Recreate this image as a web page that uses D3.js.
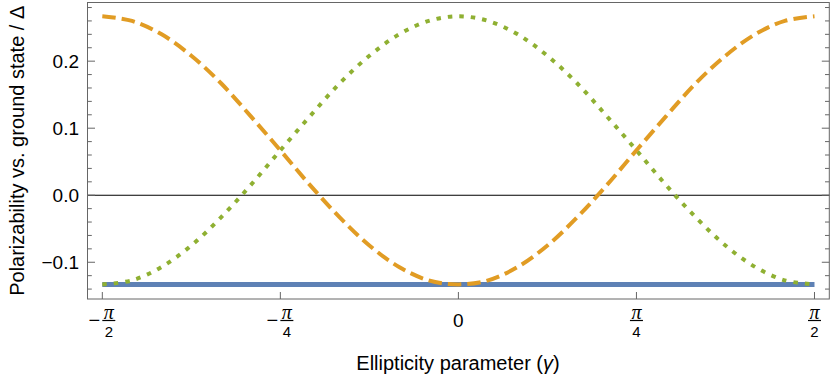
<!DOCTYPE html>
<html>
<head>
<meta charset="utf-8">
<script src="https://d3js.org/d3.v7.min.js"></script>
<style>
  * { margin: 0; padding: 0; }
  body { background: #fff; }
  svg text { font-family: "Liberation Sans", Arial, sans-serif; fill: #000; }
</style>
</head>
<body>
<div id="chart"></div>
<script>
// gamma, in units of pi
var gamma = [-0.5, -0.4583, -0.4167, -0.375, -0.3333, -0.2917, -0.25, -0.2083, -0.1667, -0.125, -0.0833, -0.0417,
             0, 0.0417, 0.0833, 0.125, 0.1667, 0.2083, 0.25, 0.2917, 0.3333, 0.375, 0.4167, 0.4583, 0.5];
// orange dashed
var orangeVals = [0.267, 0.260, 0.240, 0.208, 0.167, 0.118, 0.067, 0.015, -0.033, -0.075, -0.107, -0.127,
                  -0.133, -0.127, -0.107, -0.075, -0.033, 0.015, 0.067, 0.118, 0.167, 0.208, 0.240, 0.260, 0.267];
// green dotted
var greenVals = [-0.133, -0.127, -0.107, -0.075, -0.033, 0.015, 0.067, 0.118, 0.167, 0.208, 0.240, 0.260,
                 0.267, 0.260, 0.240, 0.208, 0.167, 0.118, 0.067, 0.015, -0.033, -0.075, -0.107, -0.127, -0.133];
// blue flat
var blueVals = [-0.133, -0.133, -0.133, -0.133, -0.133, -0.133, -0.133, -0.133, -0.133, -0.133, -0.133, -0.133,
                -0.133, -0.133, -0.133, -0.133, -0.133, -0.133, -0.133, -0.133, -0.133, -0.133, -0.133, -0.133, -0.133];

var xTicks = [-0.5, -0.25, 0, 0.25, 0.5];
var xTickNum = ["π", "π", "0", "π", "π"];
var xTickDen = ["2", "4", "", "4", "2"];
var yTicks = [-0.1, 0, 0.1, 0.2];
var yTickLabels = ["\u22120.1", "0.0", "0.1", "0.2"];

var width = 830, height = 381;
var pLeft = 87.5, pRight = 829.3, pTop = 2.5, pBottom = 299;

var svg = d3.select("#chart").append("svg")
  .attr("width", width).attr("height", height);

var x = d3.scaleLinear().domain([-0.5208, 0.5208]).range([pLeft, pRight]);
var y = d3.scaleLinear().domain([-0.1548, 0.2875]).range([pBottom, pTop]);

// zero line
svg.append("line")
  .attr("x1", pLeft).attr("x2", pRight)
  .attr("y1", y(0)).attr("y2", y(0))
  .attr("stroke", "#000").attr("stroke-width", 1.1);

var line = function(vals) {
  return d3.line()
    .x(function(d, i) { return x(gamma[i]); })
    .y(function(d) { return y(d); })
    .curve(d3.curveCatmullRom)(vals);
};

svg.append("path").attr("d", line(blueVals))
  .attr("fill", "none").attr("stroke", "#5E81B5").attr("stroke-width", 5);

svg.append("path").attr("d", line(greenVals))
  .attr("fill", "none").attr("stroke", "#8FB032").attr("stroke-width", 4)
  .attr("stroke-dasharray", "4.5,7");

svg.append("path").attr("d", line(orangeVals))
  .attr("fill", "none").attr("stroke", "#E19C24").attr("stroke-width", 4)
  .attr("stroke-dasharray", "13.5,6");

// frame
svg.append("rect")
  .attr("x", pLeft).attr("y", pTop)
  .attr("width", pRight - pLeft).attr("height", pBottom - pTop)
  .attr("fill", "none").attr("stroke", "#666").attr("stroke-width", 1);

// y ticks, left & right
var yMinor = d3.range(-14, 29, 2).map(function(d) { return d / 100; });
yMinor.forEach(function(v) {
  var major = Math.abs(v * 10 - Math.round(v * 10)) < 1e-6;
  var len = major ? 7.5 : 4.3;
  svg.append("line").attr("x1", pLeft).attr("x2", pLeft + len)
    .attr("y1", y(v)).attr("y2", y(v)).attr("stroke", "#666");
  svg.append("line").attr("x1", pRight).attr("x2", pRight - len)
    .attr("y1", y(v)).attr("y2", y(v)).attr("stroke", "#666");
});

svg.selectAll(".ylab").data(yTicks).enter().append("text")
  .attr("class", "ylab")
  .attr("x", 79).attr("y", function(d) { return y(d); })
  .attr("dy", "0.36em")
  .attr("text-anchor", "end")
  .style("font-size", "19px")
  .text(function(d, i) { return yTickLabels[i]; });

// x ticks
xTicks.forEach(function(v, i) {
  var cx = x(v);
  svg.append("line").attr("x1", cx).attr("x2", cx)
    .attr("y1", pBottom).attr("y2", pBottom - 7).attr("stroke", "#666");
  if (xTickDen[i] === "") {
    svg.append("text").attr("x", cx).attr("y", 327)
      .attr("text-anchor", "middle").style("font-size", "19px")
      .text(xTickNum[i]);
    return;
  }
  var fx = v < 0 ? cx + 6.5 : cx;
  if (v < 0) {
    svg.append("text").attr("x", cx - 8).attr("y", 327)
      .attr("text-anchor", "middle").style("font-size", "20px")
      .text("\u2212");
  }
  svg.append("text").attr("x", fx).attr("y", 318.5)
    .attr("text-anchor", "middle")
    .style("font-size", "20px").style("font-style", "italic")
    .style("font-family", "'Liberation Serif', serif")
    .text(xTickNum[i]);
  svg.append("line").attr("x1", fx - 6.5).attr("x2", fx + 6.5)
    .attr("y1", 320.5).attr("y2", 320.5).attr("stroke", "#000").attr("stroke-width", 1.2);
  svg.append("text").attr("x", fx).attr("y", 337)
    .attr("text-anchor", "middle").style("font-size", "15px")
    .text(xTickDen[i]);
});

// axis titles
var xt = svg.append("text").attr("x", 458).attr("y", 370)
  .attr("text-anchor", "middle").style("font-size", "20px");
xt.append("tspan").text("Ellipticity parameter (");
xt.append("tspan").style("font-style", "italic").text("γ");
xt.append("tspan").text(")");

svg.append("text")
  .attr("transform", "translate(24," + ((pTop + pBottom) / 2) + ") rotate(-90)")
  .attr("text-anchor", "middle").style("font-size", "20px")
  .text("Polarizability vs. ground state / Δ");
</script>
</body>
</html>
